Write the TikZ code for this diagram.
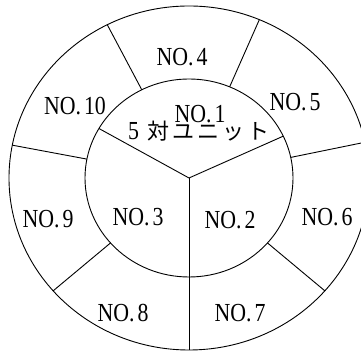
\documentclass[tikz,border=0pt]{standalone}
\usepackage{fontspec}
\setmainfont{Liberation Serif}[FakeStretch=0.84]
\newfontfamily\cjk{Noto Sans CJK JP}
\newcommand\nol[1]{NO.\kern3pt#1}
\newcommand\jcell[1]{\makebox[25pt][c]{#1}}
\begin{document}
\begin{tikzpicture}[x=1pt,y=1pt,
  ring/.style={line width=0.9pt},
  lab/.style={inner sep=0pt,font=\fontsize{26}{26}\selectfont}]
\useasboundingbox (0,0) rectangle (361,352);
\clip (0,0) rectangle (361,352);
\coordinate (c) at (189,174);
\begin{scope}[shift={(c)}]
  \coordinate (o) at (0,0);
  \draw[ring] (o) ellipse [x radius=180pt, y radius=172pt];
  \draw[ring] (o) ellipse [x radius=104pt, y radius=99pt];
  % inner spokes
  \coordinate (s1) at (150:104pt and 99pt);
  \coordinate (s2) at (25:104pt and 99pt);
  \coordinate (s3) at (270:180pt and 172pt);
  \draw[ring] (o) -- (s1);
  \draw[ring] (o) -- (s2);
  \draw[ring] (o) -- (s3);
  % outer dividers
  \foreach \a in {117,67,12,-41,221,169}{
    \coordinate (ia\a) at (\a:104pt and 99pt);
    \coordinate (oa\a) at (\a:180pt and 172pt);
    \draw[ring] (ia\a) -- (oa\a);
  }
\end{scope}
\node[lab] (n4) at (182,295) {\nol{4}};
\node[lab] (n5) at (295,250) {\nol{5}};
\node[lab] (n10) at (75,246) {\nol{10}};
\node[lab] (n1) at (200,238) {\nol{1}};
\node[lab,font=\fontsize{22}{22}\selectfont] (u) at (196,221) {\jcell{\fontsize{26}{26}\selectfont 5}\cjk\jcell{対}\jcell{ユ}\jcell{ニ}\jcell{ッ}\jcell{ト}};
\node[lab] (n9) at (48,133) {\nol{9}};
\node[lab] (n3) at (138,135) {\nol{3}};
\node[lab] (n2) at (230,132) {\nol{2}};
\node[lab] (n6) at (327,135) {\nol{6}};
\node[lab] (n8) at (123,39) {\nol{8}};
\node[lab] (n7) at (240,39) {\nol{7}};
\end{tikzpicture}
\end{document}
